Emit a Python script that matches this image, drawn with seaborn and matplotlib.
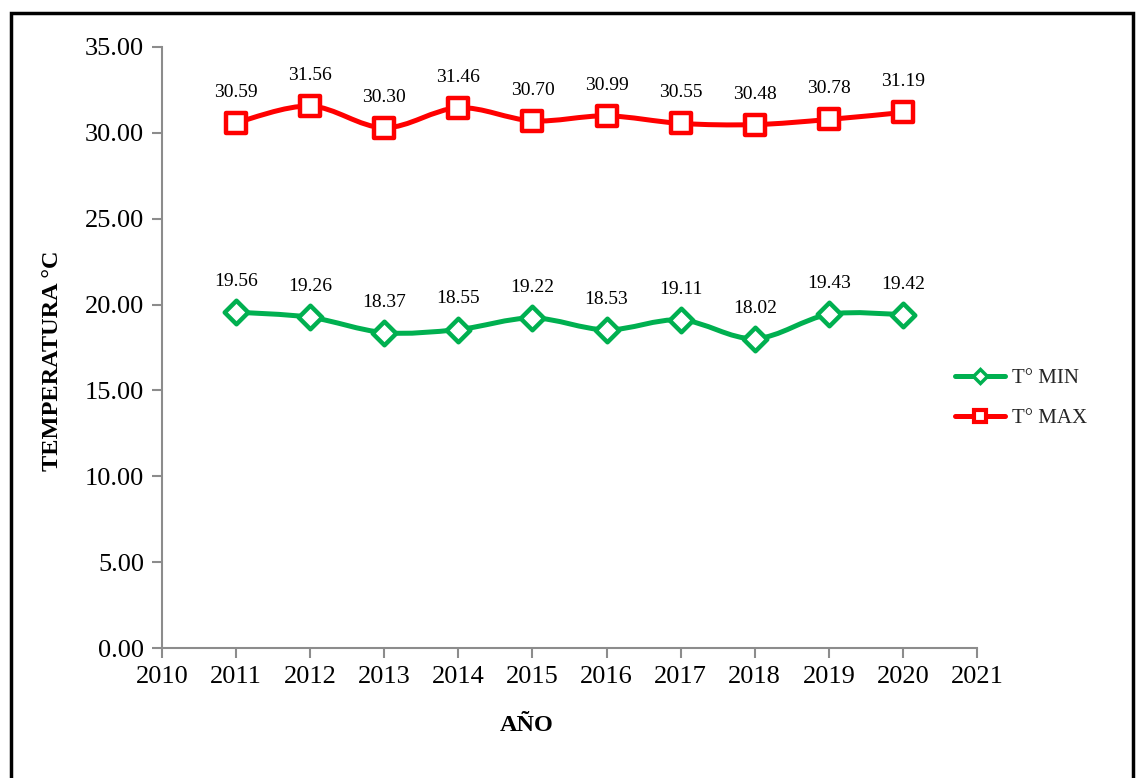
import matplotlib
matplotlib.use("Agg")
import matplotlib.pyplot as plt
import seaborn as sns
import numpy as np
import pandas as pd
from matplotlib.path import Path
from matplotlib.patches import PathPatch, Rectangle
from matplotlib.lines import Line2D

years = [2011, 2012, 2013, 2014, 2015, 2016, 2017, 2018, 2019, 2020]
t_min = [19.56, 19.26, 18.37, 18.55, 19.22, 18.53, 19.11, 18.02, 19.43, 19.42]
t_max = [30.59, 31.56, 30.30, 31.46, 30.70, 30.99, 30.55, 30.48, 30.78, 31.19]
y_ticks = [0, 5, 10, 15, 20, 25, 30, 35]
x_ticks = list(range(2010, 2022))

GREEN = "#00B050"
RED = "#FF0000"
AXIS_GRAY = "#8C8C8C"

sns.set_theme(style="white")
plt.rcParams["font.family"] = ["Liberation Serif", "DejaVu Serif"]

fig = plt.figure(figsize=(11.39, 7.78), dpi=100)
ax = fig.add_axes([0.1422, 0.167, 0.7156, 0.7726])


def smooth_path(xs, ys):
    """Cubic Bezier path through the points (Catmull-Rom style smoothing)."""
    pts = np.column_stack([xs, ys]).astype(float)
    n = len(pts)
    verts = [pts[0]]
    codes = [Path.MOVETO]
    for i in range(n - 1):
        p0 = pts[i - 1] if i > 0 else pts[i]
        p1 = pts[i]
        p2 = pts[i + 1]
        p3 = pts[i + 2] if i + 2 < n else pts[i + 1]
        c1 = p1 + (p2 - p0) / 6.0
        c2 = p2 - (p3 - p1) / 6.0
        verts += [c1, c2, p2]
        codes += [Path.CURVE4] * 3
    return Path(verts, codes)


series = [
    ("T° MIN", t_min, GREEN, "D", 12),
    ("T° MAX", t_max, RED, "s", 14),
]

for name, vals, color, marker, msize in series:
    ax.add_patch(PathPatch(smooth_path(years, vals), facecolor="none",
                           edgecolor=color, lw=3.6, capstyle="round",
                           joinstyle="round", zorder=2))
    df = pd.DataFrame({"year": years, "value": vals})
    sns.scatterplot(data=df, x="year", y="value", ax=ax, marker=marker,
                    s=msize ** 2, facecolor="white", edgecolor=color,
                    linewidth=3.2, zorder=3, legend=False)
    for xv, yv in zip(years, vals):
        ax.annotate(f"{yv:.2f}", (xv, yv), xytext=(0, 22),
                    textcoords="offset points", ha="center", va="center",
                    fontsize=14, color="black")

ax.set_xlim(2010, 2021)
ax.set_ylim(0, 35)
ax.set_xticks(x_ticks)
ax.set_xticklabels([str(x) for x in x_ticks])
ax.set_yticks(y_ticks)
ax.set_yticklabels([f"{v:.2f}" for v in y_ticks])
ax.tick_params(axis="both", labelsize=19, colors=AXIS_GRAY, labelcolor="black",
               length=7, width=1.5, direction="out", pad=6)
ax.tick_params(axis="x", bottom=True)
ax.tick_params(axis="y", left=True)

for side in ["top", "right"]:
    ax.spines[side].set_visible(False)
for side in ["left", "bottom"]:
    ax.spines[side].set_color(AXIS_GRAY)
    ax.spines[side].set_linewidth(1.5)

ax.set_xlabel("AÑO", fontsize=17.5, fontweight="bold", color="black")
ax.set_ylabel("TEMPERATURA °C", fontsize=17.5, fontweight="bold", color="black")
ax.xaxis.set_label_coords(0.448, -0.112)
ax.yaxis.set_label_coords(-0.121, 0.478)

handles = [
    Line2D([], [], color=GREEN, lw=3.6, marker="D", markersize=7,
           markerfacecolor="white", markeredgecolor=GREEN, markeredgewidth=2.5),
    Line2D([], [], color=RED, lw=3.6, marker="s", markersize=8,
           markerfacecolor="white", markeredgecolor=RED, markeredgewidth=3),
]
fig.legend(handles, ["T° MIN", "T° MAX"], loc="center left",
           bbox_to_anchor=(0.822, 0.488), frameon=False, fontsize=15,
           handlelength=2.4, labelspacing=1.0, handletextpad=0.35)

# outer chart frame
fig.patches.append(Rectangle((11 / 1139, -0.05), 1122 / 1139, 1.05 - 13 / 778,
                             transform=fig.transFigure, fill=False,
                             edgecolor="black", lw=2.5, zorder=10))

fig.savefig("out.png", dpi=100, facecolor="white")
